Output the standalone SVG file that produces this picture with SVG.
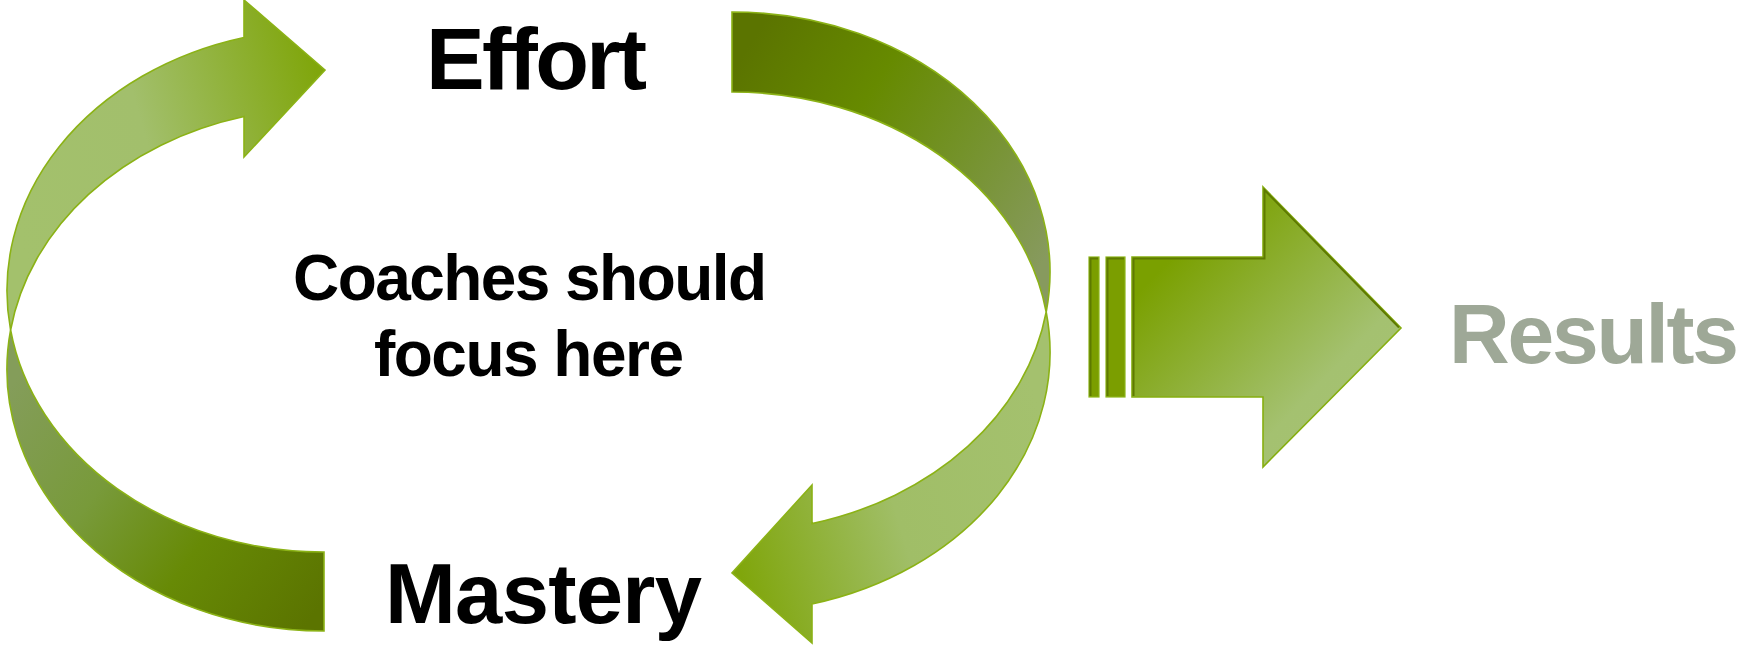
<svg xmlns="http://www.w3.org/2000/svg" width="1746" height="645" viewBox="0 0 1746 645">
  <defs>
    <linearGradient id="gLeftFront" x1="0" y1="0.6" x2="1" y2="0.3">
      <stop offset="0" stop-color="#a3c16c"/>
      <stop offset="0.45" stop-color="#a2bf6c"/>
      <stop offset="1" stop-color="#80a60c"/>
    </linearGradient>
    <linearGradient id="gLeftBack" x1="0" y1="0.2" x2="1" y2="0.9">
      <stop offset="0" stop-color="#849d5a"/>
      <stop offset="0.35" stop-color="#789a3a"/>
      <stop offset="0.65" stop-color="#678a06"/>
      <stop offset="1" stop-color="#5b7400"/>
    </linearGradient>
    <linearGradient id="gRightBack" x1="0" y1="0.2" x2="1" y2="0.8">
      <stop offset="0" stop-color="#5b7400"/>
      <stop offset="0.35" stop-color="#668a00"/>
      <stop offset="0.65" stop-color="#74922a"/>
      <stop offset="1" stop-color="#879a5e"/>
    </linearGradient>
    <linearGradient id="gRightFront" x1="1" y1="0.4" x2="0" y2="0.7">
      <stop offset="0" stop-color="#a4c16e"/>
      <stop offset="0.5" stop-color="#a0be67"/>
      <stop offset="1" stop-color="#80a60c"/>
    </linearGradient>
    <linearGradient id="gResults" x1="0" y1="0" x2="1" y2="1">
      <stop offset="0.2" stop-color="#7aa000"/>
      <stop offset="0.7" stop-color="#a4c170"/>
      <stop offset="1" stop-color="#a6c274"/>
    </linearGradient>
    <style>
      .rib { stroke: #8bb216; stroke-width: 1.6; stroke-linejoin: miter; }
      .bar { fill: #7b9e00; stroke: #8cb51a; stroke-width: 1.2; }
      .bevel { fill: none; stroke: #5e7a00; stroke-width: 2; }
      .lbl { font-family: "Liberation Sans", Arial, sans-serif; font-weight: bold; }
    </style>
  </defs>

  <g id="connectors">
    <!-- Left curved ribbon: Mastery -> Effort -->
    <g id="arrow-mastery-effort">
      <path class="rib" fill="url(#gLeftBack)" d="M 10.6 330 A 317 261.5 0 0 0 324 631 L 324 552 A 317 261.5 0 0 1 10.6 330 Z"/>
      <path class="rib" fill="url(#gLeftFront)" d="M 244 37.5 A 317 261.5 0 0 0 10.6 330 A 317 261.5 0 0 1 244 116.5 L 244 157 L 325 70 L 244 0 Z"/>
    </g>
    <!-- Right curved ribbon: Effort -> Mastery -->
    <g id="arrow-effort-mastery">
      <path class="rib" fill="url(#gRightBack)" d="M 732 12 A 318 260 0 0 1 1046.2 312 A 318 260 0 0 0 732 92 Z"/>
      <path class="rib" fill="url(#gRightFront)" d="M 1046.2 312 A 318 260 0 0 1 812 604 L 812 643 L 732 573 L 812 485 L 812 523.6 A 318 260 0 0 0 1046.2 312 Z"/>
    </g>
    <!-- Striped block arrow to Results -->
    <g id="arrow-to-results">
      <rect class="bar" x="1089" y="257" width="10" height="140"/>
      <path class="bevel" d="M 1090.5 396 L 1090.5 258.5 L 1098 258.5"/>
      <rect class="bar" x="1106" y="257" width="19" height="140"/>
      <path class="bevel" d="M 1107.5 396 L 1107.5 258.5 L 1124 258.5"/>
      <path fill="url(#gResults)" stroke="#86ae10" stroke-width="1.6" d="M 1132 257 L 1263 257 L 1263 187 L 1401 328 L 1263 467 L 1263 397 L 1132 397 Z"/>
      <path class="bevel" d="M 1133.5 396 L 1133.5 258.5 L 1264.5 258.5 L 1264.5 190 L 1399 327.5"/>
    </g>
  </g>

  <g id="node-effort">
    <text class="lbl" x="536.5" y="89" font-size="88" text-anchor="middle" textLength="221" lengthAdjust="spacing" fill="#000000">Effort</text>
  </g>
  <g id="node-mastery">
    <text class="lbl" x="543.5" y="623" font-size="85" text-anchor="middle" textLength="317" lengthAdjust="spacing" fill="#000000">Mastery</text>
  </g>
  <g id="node-focus">
    <text class="lbl" x="530" y="300" font-size="64" text-anchor="middle" textLength="474" lengthAdjust="spacing" fill="#000000">Coaches should</text>
    <text class="lbl" x="529" y="376" font-size="64" text-anchor="middle" textLength="310" lengthAdjust="spacing" fill="#000000">focus here</text>
  </g>
  <g id="node-results">
    <text class="lbl" x="1594" y="363" font-size="84" text-anchor="middle" textLength="290" lengthAdjust="spacing" fill="#9ea897">Results</text>
  </g>
</svg>
